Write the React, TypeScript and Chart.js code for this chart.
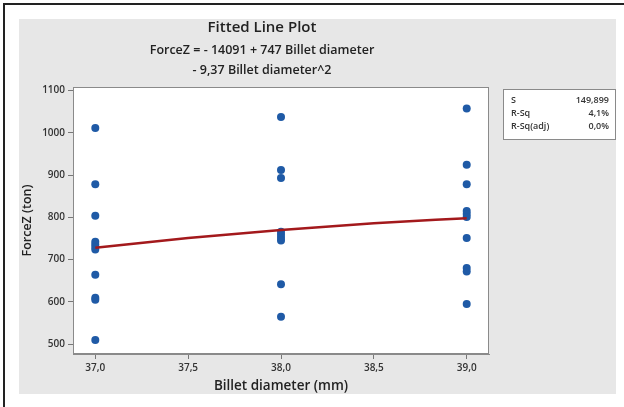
import React, { useEffect, useRef } from "react";
import { Chart, registerables } from "chart.js";

Chart.register(...registerables);

const billetDiameter = [
  37, 37, 37, 37, 37, 37, 37, 37, 37, 37, 37,
  38, 38, 38, 38, 38, 38, 38, 38, 38,
  39, 39, 39, 39, 39, 39, 39, 39, 39, 39,
];
const forceZ = [
  1011, 878, 804, 742, 736, 730, 724, 664, 610, 605, 510,
  1037, 912, 893, 766, 759, 752, 745, 642, 565,
  1057, 924, 878, 815, 808, 801, 751, 680, 672, 595,
];
const fitX = [37, 37.5, 38, 38.5, 39];
const fitY = [728, 751, 770, 786, 798];
const xTicks = [37, 37.5, 38, 38.5, 39];
const yTicks = [500, 600, 700, 800, 900, 1000, 1100];
const statLabels = ["S", "R-Sq", "R-Sq(adj)"];
const statValues = ["149,899", "4,1%", "0,0%"];

const FONT = "'Open Sans', 'DejaVu Sans', sans-serif";

const framePlugin = {
  id: "frame",
  beforeDraw(chart: any) {
    const { ctx, chartArea } = chart;
    ctx.save();
    ctx.fillStyle = "#ffffff";
    ctx.fillRect(0, 0, chart.width, chart.height);
    ctx.fillStyle = "#222";
    ctx.fillRect(3, 3, 2, chart.height - 3);
    ctx.fillRect(3, 3, chart.width - 3, 2);
    ctx.fillStyle = "#e7e7e7";
    ctx.fillRect(19, 19, 597, 375);
    ctx.fillStyle = "#ffffff";
    ctx.fillRect(chartArea.left, chartArea.top, chartArea.right - chartArea.left, chartArea.bottom - chartArea.top);
    ctx.restore();
  },
  afterDraw(chart: any) {
    const { ctx, chartArea } = chart;
    ctx.save();
    ctx.strokeStyle = "#8a8a8a";
    ctx.lineWidth = 1;
    ctx.strokeRect(chartArea.left + 0.5, chartArea.top + 0.5, chartArea.right - chartArea.left - 1, chartArea.bottom - chartArea.top - 1);
    // stats box
    const bx = 503, by = 89, bw = 112, bh = 50;
    ctx.fillStyle = "#ffffff";
    ctx.fillRect(bx, by, bw, bh);
    ctx.strokeStyle = "#8a8a8a";
    ctx.strokeRect(bx + 0.5, by + 0.5, bw, bh);
    ctx.font = `600 9px ${FONT}`;
    ctx.fillStyle = "#333";
    ctx.textBaseline = "middle";
    statLabels.forEach((l, i) => {
      const y = by + 11 + i * 13;
      ctx.textAlign = "left";
      ctx.fillText(l, bx + 8, y);
      ctx.textAlign = "right";
      ctx.fillText(statValues[i], bx + bw - 6, y);
    });
    ctx.restore();
  },
};

export default function App() {
  const ref = useRef<HTMLCanvasElement>(null);
  useEffect(() => {
    if (!ref.current) return;
    const chart = new Chart(ref.current, {
      type: "scatter",
      data: {
        datasets: [
          {
            type: "line",
            label: "Fit",
            data: fitX.map((x, i) => ({ x, y: fitY[i] })),
            borderColor: "#a3191c",
            borderWidth: 2.5,
            pointRadius: 0,
            cubicInterpolationMode: "monotone",
            fill: false,
          } as any,
          {
            label: "ForceZ",
            data: billetDiameter.map((x, i) => ({ x, y: forceZ[i] })),
            backgroundColor: "#1f5aa6",
            borderColor: "#1f5aa6",
            pointRadius: 4,
            pointBorderWidth: 0,
          },
        ],
      },
      options: {
        responsive: false,
        animation: false,
        layout: { padding: { left: 35, right: 135, top: 19, bottom: 13 } },
        plugins: {
          legend: { display: false },
          tooltip: { enabled: false },
          title: {
            display: true,
            text: "Fitted Line Plot",
            color: "#222",
            font: { family: FONT, size: 15, weight: "600", lineHeight: 1.2 },
            padding: { top: 0, bottom: 3 },
          },
          subtitle: {
            display: true,
            text: ["ForceZ = - 14091 + 747 Billet diameter", "- 9,37 Billet diameter^2"],
            color: "#222",
            font: { family: FONT, size: 12.5, weight: "600", lineHeight: 1.6 },
            padding: { top: 0, bottom: 7 },
          },
        },
        scales: {
          x: {
            type: "linear",
            min: 36.88,
            max: 39.12,
            afterBuildTicks: (s: any) => { s.ticks = xTicks.map((v) => ({ value: v })); },
            afterFit: (s: any) => { s.height = 40; },
            grid: { drawOnChartArea: false, tickLength: 5, color: "#777" },
            border: { color: "#8a8a8a" },
            ticks: {
              color: "#333",
              font: { family: FONT, size: 10, weight: "600" },
              padding: 3,
              callback: (v: any) => Number(v).toFixed(1).replace(".", ","),
            },
            title: {
              display: true,
              text: "Billet diameter (mm)",
              color: "#222",
              font: { family: FONT, size: 13.5, weight: "600" },
              padding: { top: 0, bottom: 0 },
            },
          },
          y: {
            min: 477,
            max: 1108,
            afterBuildTicks: (s: any) => { s.ticks = yTicks.map((v) => ({ value: v })); },
            afterFit: (s: any) => { s.width = 38; },
            grid: { drawOnChartArea: false, tickLength: 5, color: "#777" },
            border: { color: "#8a8a8a" },
            ticks: {
              color: "#333",
              font: { family: FONT, size: 10, weight: "600" },
              padding: 3,
              callback: (v: any) => String(v),
            },
            title: {
              display: true,
              text: "ForceZ (ton)",
              color: "#222",
              font: { family: FONT, size: 12.5, weight: "600", lineHeight: 1.2 },
              padding: { top: -15.5, bottom: 0 },
            },
          },
        },
      },
      plugins: [framePlugin],
    } as any);
    return () => chart.destroy();
  }, []);
  return (
    <div style={{ position: "fixed", left: 0, top: 0, width: 624, height: 407 }}>
      <canvas ref={ref} width={624} height={407} style={{ width: 624, height: 407, display: "block" }} />
    </div>
  );
}
